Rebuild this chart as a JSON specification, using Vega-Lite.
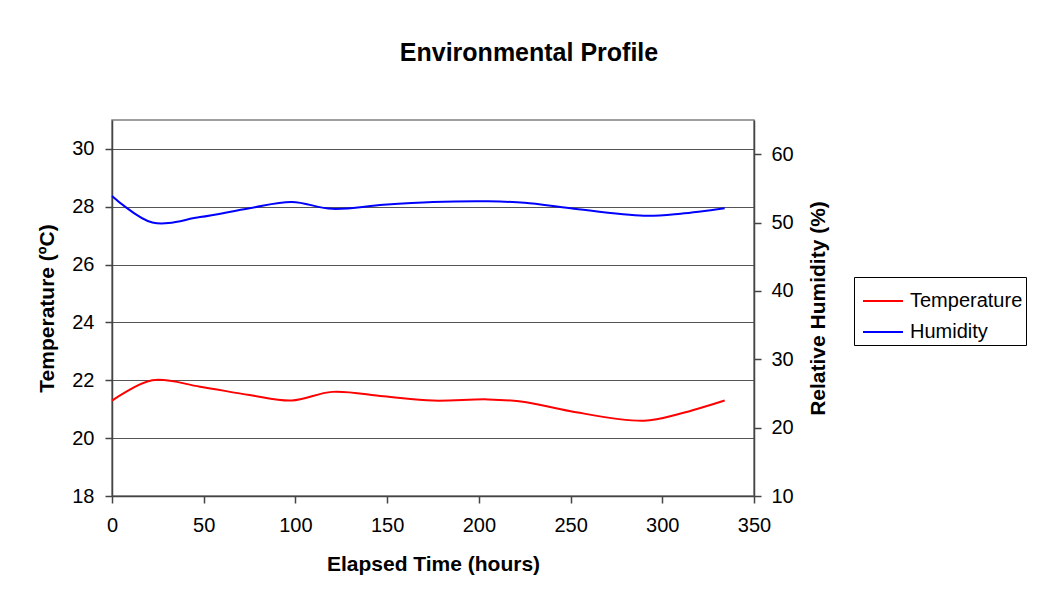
{
  "$schema": "https://vega.github.io/schema/vega-lite/v6.json",
  "autosize": "none",
  "width": 642,
  "height": 376,
  "padding": {"left": 112, "top": 120, "right": 287, "bottom": 107},
  "background": "white",
  "title": {
    "text": "Environmental Profile",
    "fontSize": 25,
    "fontWeight": "bold",
    "font": "Liberation Sans",
    "color": "#000",
    "anchor": "middle",
    "frame": "group",
    "dx": 96,
    "offset": 54
  },
  "data": {
    "values": [
      {"hours": 0, "temperature": 21.3, "humidity": 53.9},
      {"hours": 22, "temperature": 22.0, "humidity": 50.0},
      {"hours": 48, "temperature": 21.78, "humidity": 50.8},
      {"hours": 75, "temperature": 21.49, "humidity": 52.1},
      {"hours": 98, "temperature": 21.3, "humidity": 53.0},
      {"hours": 120, "temperature": 21.6, "humidity": 52.0},
      {"hours": 148, "temperature": 21.45, "humidity": 52.6},
      {"hours": 175, "temperature": 21.3, "humidity": 53.0},
      {"hours": 205, "temperature": 21.34, "humidity": 53.1},
      {"hours": 225, "temperature": 21.25, "humidity": 52.9},
      {"hours": 250, "temperature": 20.93, "humidity": 52.1},
      {"hours": 290, "temperature": 20.6, "humidity": 51.0},
      {"hours": 310, "temperature": 20.85, "humidity": 51.3},
      {"hours": 334, "temperature": 21.3, "humidity": 52.1}
    ]
  },
  "encoding": {
    "x": {
      "field": "hours",
      "type": "quantitative",
      "scale": {"domain": [0, 350], "nice": false},
      "axis": {
        "title": "Elapsed Time (hours)",
        "values": [0, 50, 100, 150, 200, 250, 300, 350],
        "grid": false,
        "labelFlush": false,
        "tickSize": 7,
        "labelPadding": 12,
        "titlePadding": 18
      }
    }
  },
  "layer": [
    {
      "mark": {"type": "line", "interpolate": "catmull-rom", "strokeWidth": 2},
      "encoding": {
        "y": {
          "field": "temperature",
          "type": "quantitative",
          "scale": {"domain": [18, 31], "nice": false, "zero": false},
          "axis": {
            "title": "Temperature (ºC)",
            "orient": "left",
            "values": [18, 20, 22, 24, 26, 28, 30],
            "grid": true,
            "tickSize": 7,
            "labelPadding": 11,
            "titlePadding": 14
          }
        },
        "color": {
          "datum": "Temperature",
          "type": "nominal",
          "scale": {"domain": ["Temperature", "Humidity"], "range": ["#FF0000", "#0000FF"]},
          "legend": {
            "title": null,
            "orient": "none",
            "legendX": 742,
            "legendY": 157,
            "symbolType": "stroke",
            "symbolSize": 1600,
            "symbolStrokeWidth": 2,
            "symbolOffset": 5,
            "labelFontSize": 20,
            "labelFont": "Liberation Sans",
            "labelColor": "#000",
            "labelOffset": 6,
            "rowPadding": 0,
            "padding": 3,
            "strokeColor": "#000",
            "fillColor": "white"
          }
        }
      }
    },
    {
      "mark": {"type": "line", "interpolate": "catmull-rom", "strokeWidth": 2},
      "encoding": {
        "y": {
          "field": "humidity",
          "type": "quantitative",
          "scale": {"domain": [10, 65], "nice": false, "zero": false},
          "axis": {
            "title": "Relative Humidity (%)",
            "orient": "right",
            "values": [10, 20, 30, 40, 50, 60],
            "grid": false,
            "tickSize": 7,
            "labelPadding": 10,
            "titlePadding": 35,
            "titleAngle": -90
          }
        },
        "color": {"datum": "Humidity", "type": "nominal"}
      }
    }
  ],
  "resolve": {"scale": {"y": "independent"}},
  "config": {
    "font": "Liberation Sans",
    "view": {"stroke": "#808080", "strokeWidth": 1.5},
    "axis": {
      "labelFont": "Liberation Sans",
      "labelFontSize": 20,
      "labelColor": "#000",
      "titleFont": "Liberation Sans",
      "titleFontSize": 21,
      "titleFontWeight": "bold",
      "titleColor": "#000",
      "domainColor": "#444",
      "domainWidth": 1.5,
      "tickColor": "#444",
      "tickWidth": 1.5,
      "gridColor": "#555",
      "gridWidth": 1.2
    }
  }
}
